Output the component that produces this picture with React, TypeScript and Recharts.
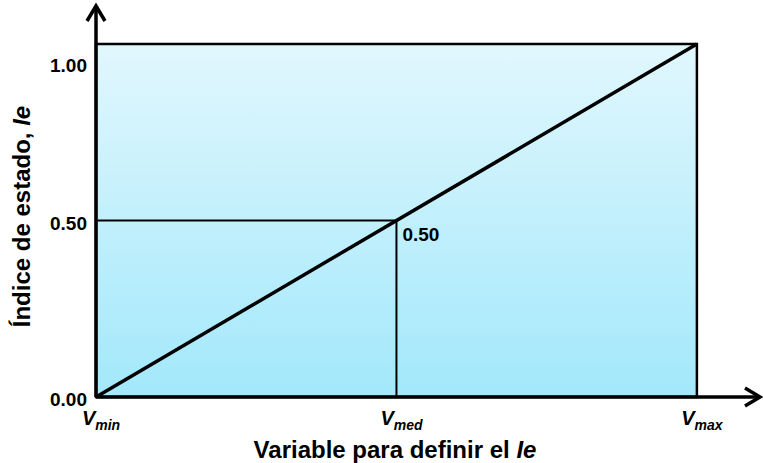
import { LineChart, Line, XAxis, YAxis, ReferenceArea, ReferenceLine, ReferenceDot, Label } from 'recharts';

// x positions: Vmin, Vmed, Vmax
const xTicks = [0, 1, 2];
const xTickSubs = ['min', 'med', 'max'];
const yTicks = [0, 0.5, 1];
const yTickLabels = ['0.00', '0.50', '1.00'];
const lineX = [0, 2];
const lineY = [0, 1];
const medX = 1;
const medY = 0.5;

const lineData = lineX.map((v, i) => ({ v, ie: lineY[i] }));

const FONT = 'Arial, "Liberation Sans", sans-serif';

function XTick(props: { x?: number; y?: number; payload?: { value: number } }) {
  const { x = 0, y = 0, payload } = props;
  const i = xTicks.indexOf(payload ? payload.value : -1);
  return (
    <text x={x + 5} y={y + 28} textAnchor="middle" fontFamily={FONT} fontWeight="bold" fontStyle="italic" fill="#000">
      <tspan fontSize={20}>V</tspan>
      <tspan fontSize={14} dy={5}>{xTickSubs[i]}</tspan>
    </text>
  );
}

function YTick(props: { x?: number; y?: number; payload?: { value: number } }) {
  const { x = 0, y = 0, payload } = props;
  const i = yTicks.indexOf(payload ? payload.value : -1);
  // the 1.00 label sits lower than its gridline in the original
  const dy = payload && payload.value === 1 ? 28 : 9;
  return (
    <text x={x - 9} y={y + dy} textAnchor="end" fontFamily={FONT} fontWeight="bold" fontSize={19} fill="#000">
      {yTickLabels[i]}
    </text>
  );
}

const YTitle = (props: any) => {
  const vb = props.viewBox || { x: 0, y: 0, width: 0, height: 0 };
  const cx = vb.x + 5;
  const cy = vb.y + vb.height / 2 + 15;
  return (
    <text x={cx} y={cy} transform={`rotate(-90 ${cx} ${cy})`} textAnchor="middle" dominantBaseline="central"
      fontFamily={FONT} fontWeight="bold" fontSize={24} fill="#000">
      Índice de estado, <tspan fontStyle="italic">Ie</tspan>
    </text>
  );
};

const XTitle = (props: any) => {
  const vb = props.viewBox || { x: 0, y: 0, width: 0, height: 0 };
  return (
    <text x={vb.x + vb.width / 2 - 33} y={vb.y + 61} textAnchor="middle"
      fontFamily={FONT} fontWeight="bold" fontSize={24} fill="#000">
      Variable para definir el <tspan fontStyle="italic">Ie</tspan>
    </text>
  );
};

const MedLabel = (props: any) => {
  const vb = props.viewBox || { x: 0, y: 0 };
  return (
    <text x={vb.x + 6} y={vb.y + 20} fontFamily={FONT} fontWeight="bold" fontSize={19} fill="#000">
      {medY.toFixed(2)}
    </text>
  );
};

export default function App() {
  return (
    <div style={{ position: 'absolute', left: 0, top: 0, width: 763, height: 463, background: '#fff' }}>
      <LineChart width={763} height={463} data={lineData} margin={{ top: 6, right: 3, left: 16, bottom: 0 }}>
        <defs>
          <linearGradient id="bgFill" x1="0" y1="0" x2="0" y2="1">
            <stop offset="0%" stopColor="#e1f7fd" />
            <stop offset="100%" stopColor="#a2e8fb" />
          </linearGradient>
          <marker id="arrowHead" markerUnits="userSpaceOnUse" markerWidth={30} markerHeight={30}
            viewBox="-20 -15 30 30" refX={0} refY={0} orient="auto-start-reverse">
            <path d="M -15 -9 L 0 0 L -15 9" fill="none" stroke="#000" strokeWidth={3.5} strokeLinejoin="miter" />
          </marker>
        </defs>
        <XAxis
          dataKey="v"
          type="number"
          domain={[0, 2.21]}
          allowDataOverflow
          ticks={xTicks}
          tick={<XTick />}
          tickLine={false}
          tickSize={0}
          tickMargin={0}
          height={66}
          axisLine={{ stroke: '#000', strokeWidth: 3.5, markerEnd: 'url(#arrowHead)' }}
        >
          <Label content={<XTitle />} />
        </XAxis>
        <YAxis
          type="number"
          domain={[0, 1.108]}
          allowDataOverflow
          ticks={yTicks}
          tick={<YTick />}
          tickLine={false}
          tickSize={0}
          tickMargin={0}
          width={80}
          axisLine={{ stroke: '#000', strokeWidth: 3.5, markerStart: 'url(#arrowHead)' }}
        >
          <Label content={<YTitle />} />
        </YAxis>
        <ReferenceArea x1={lineX[0]} x2={lineX[1]} y1={lineY[0]} y2={lineY[1]} fill="url(#bgFill)" fillOpacity={1}
          stroke="#000" strokeWidth={2.5} />
        <ReferenceLine segment={[{ x: 0, y: medY }, { x: medX, y: medY }]} stroke="#000" strokeWidth={2} />
        <ReferenceLine segment={[{ x: medX, y: 0 }, { x: medX, y: medY }]} stroke="#000" strokeWidth={2} />
        <Line dataKey="ie" stroke="#000" strokeWidth={3.5} dot={false} isAnimationActive={false} />
        <ReferenceDot x={medX} y={medY} r={0} fill="none" stroke="none" label={<MedLabel />} />
      </LineChart>
    </div>
  );
}
